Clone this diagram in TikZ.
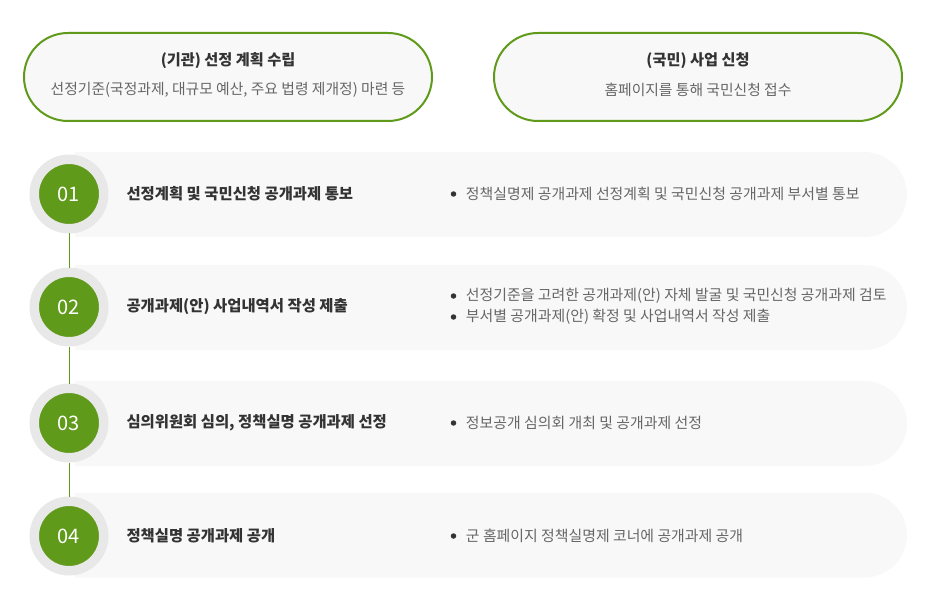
\documentclass[tikz,border=0pt]{standalone}
\usepackage{fontspec}
\newfontfamily\kr{Noto Sans CJK KR}
\usetikzlibrary{positioning}

\definecolor{leaf}{RGB}{96,154,26}
\definecolor{ringgray}{RGB}{232,232,232}
\definecolor{barfill}{RGB}{248,248,248}
\definecolor{ink}{RGB}{51,51,51}
\definecolor{soft}{RGB}{102,102,102}

\tikzset{
  pill/.style={draw=leaf, line width=2pt, fill=barfill, rounded corners=44pt,
    minimum width=408pt, minimum height=88pt},
  pilltitle/.style={font=\kr\bfseries\fontsize{15.2}{17}\selectfont, text=ink},
  pillsub/.style={font=\kr\fontsize{14.8}{17}\selectfont, text=soft},
  stepno/.style={circle, fill=leaf, draw=ringgray, line width=9.5pt,
    minimum size=69.5pt, inner sep=0pt, text=white, font=\kr\fontsize{20}{22}\selectfont},
  steptitle/.style={anchor=west, font=\kr\bfseries\fontsize{15.4}{17}\selectfont, text=ink},
  item/.style={anchor=west, font=\kr\fontsize{14.9}{17}\selectfont, text=soft},
  dot/.style={circle, fill=ink, inner sep=0pt, minimum size=5.5pt},
  link/.style={draw=leaf, line width=0.8pt}
}

\begin{document}
\begin{tikzpicture}[x=1pt,y=-1pt]
  \useasboundingbox (0,0) rectangle (930,607);

  % 상단 두 개의 출발 상자
  \node[pill] (gov) at (228,77) {};
  \node[pilltitle] (govt) at (228,61) {(기관) 선정 계획 수립};
  \node[pillsub] (govs) at (228,90) {선정기준(국정과제, 대규모 예산, 주요 법령 제개정) 마련 등};

  \node[pill] (pub) at (698,77) {};
  \node[pilltitle] (pubt) at (698,61) {(국민) 사업 신청};
  \node[pillsub] (pubs) at (698,90) {홈페이지를 통해 국민신청 접수};

  % 단계별 배경 띠
  \foreach \y in {194.5,307.5,423.5,535}
  {
    \fill[barfill] (75,\y-42.5) -- (864.5,\y-42.5)
      arc[start angle=-90, end angle=90, radius=42.5] -- (75,\y+42.5) -- cycle;
  }

  % 단계 번호와 제목
  \foreach \i/\y/\t in {1/194/선정계획 및 국민신청 공개과제 통보,
                        2/307/공개과제(안) 사업내역서 작성 제출,
                        3/423/{심의위원회 심의, 정책실명 공개과제 선정},
                        4/536/정책실명 공개과제 공개}
  {
    \node[stepno] (c\i) at (69,\y) {0\i};
    \node[steptitle] (t\i) at (123,\y) {\t};
  }

  % 단계 사이 연결선
  \draw[link] (c1) -- (c2);
  \draw[link] (c2) -- (c3);
  \draw[link] (c3) -- (c4);

  % 오른쪽 설명
  \node[dot] (d1) at (453.5,194) {};
  \node[item, right=6pt of d1] (i1) {정책실명제 공개과제 선정계획 및 국민신청 공개과제 부서별 통보};
  \node[dot] (d2) at (453.5,296) {};
  \node[item, right=6pt of d2] (i2) {선정기준을 고려한 공개과제(안) 자체 발굴 및 국민신청 공개과제 검토};
  \node[dot] (d3) at (453.5,317) {};
  \node[item, right=6pt of d3] (i3) {부서별 공개과제(안) 확정 및 사업내역서 작성 제출};
  \node[dot] (d4) at (453.5,423) {};
  \node[item, right=6pt of d4] (i4) {정보공개 심의회 개최 및 공개과제 선정};
  \node[dot] (d5) at (453.5,536) {};
  \node[item, right=6pt of d5] (i5) {군 홈페이지 정책실명제 코너에 공개과제 공개};

\end{tikzpicture}
\end{document}
